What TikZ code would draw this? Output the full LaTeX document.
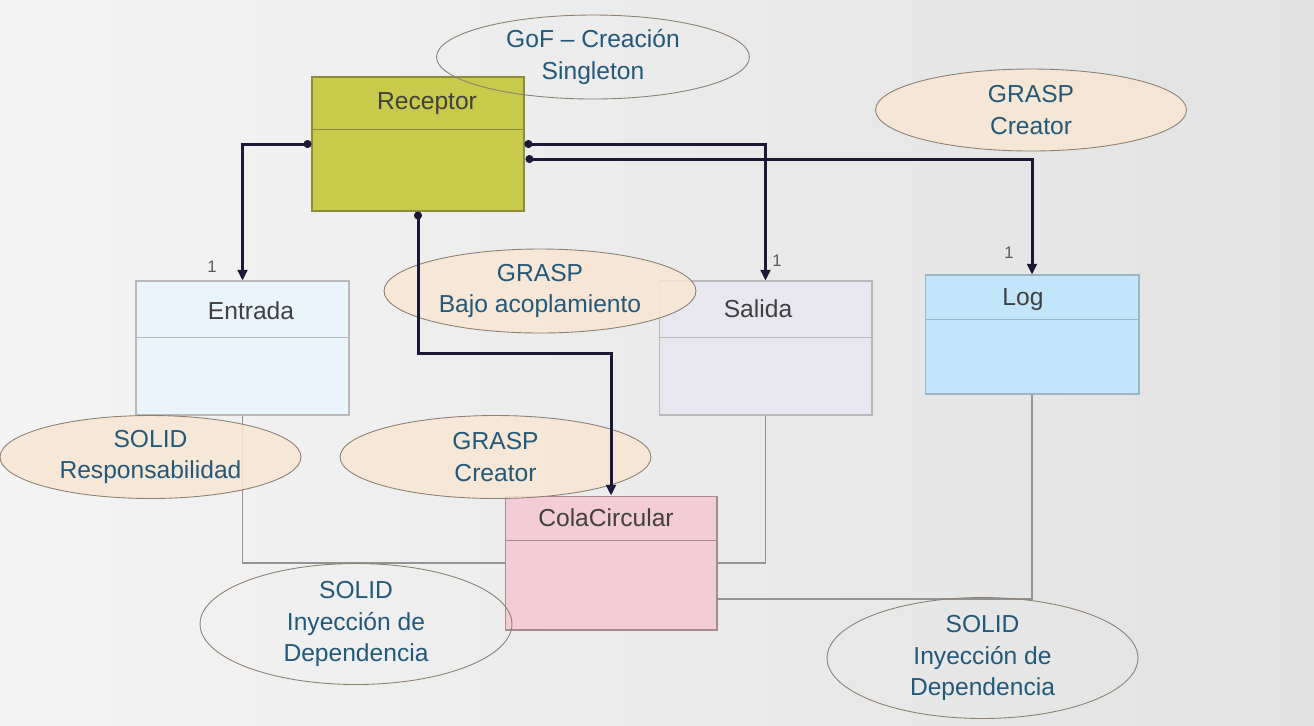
\documentclass[tikz,border=0pt]{standalone}
\usepackage{fontspec}
\setmainfont{Liberation Sans}
\usepackage{xcolor}
\usepackage{tikz}
\usetikzlibrary{shapes,arrows.meta,positioning,calc}

\definecolor{bgleft}{HTML}{F4F4F4}
\definecolor{bgright}{HTML}{E2E2E2}
\definecolor{recfill}{HTML}{C9C94C}
\definecolor{recline}{HTML}{8C8C3C}
\definecolor{entfill}{HTML}{EAF4FB}
\definecolor{salfill}{HTML}{E8E6EE}
\definecolor{logfill}{HTML}{C3E5F9}
\definecolor{logline}{HTML}{9AB6C8}
\definecolor{colafill}{HTML}{F2CDD5}
\definecolor{colaline}{HTML}{A88A90}
\definecolor{peach}{HTML}{F9E6D2}
\definecolor{notetext}{HTML}{22597B}
\definecolor{linknavy}{HTML}{1A1A38}

\tikzset{
    classbox/.style={rectangle, draw=#1, line width=0.6pt, inner sep=0pt},
    classname/.style={font=\fontsize{14}{16}\selectfont, text=black!75},
    divline/.style={draw=#1, line width=0.6pt},
    note/.style={ellipse, draw=gray!80!brown, line width=0.5pt, align=center,
        text=notetext, font=\fontsize{14}{18}\selectfont, inner sep=0pt},
    notefill/.style={note, fill=peach, fill opacity=0.85, text opacity=1},
    assoc/.style={draw=linknavy, line width=1.7pt, {Circle[length=4.5pt]}-{Triangle[length=6pt,width=5.5pt]}},
    dep/.style={draw=gray!85, line width=0.7pt},
    mult/.style={font=\fontsize{9.5}{10}\selectfont, text=black!65}
}

\begin{document}
\begin{tikzpicture}[x=0.02cm,y=-0.02cm]
    % background
    \useasboundingbox (0,0) rectangle (1314,725);
    \shade[left color=bgleft, right color=bgright] (0,0) rectangle (1314,725);

    % classes
    \node[classbox=recline, fill=recfill, minimum width=4.24cm, minimum height=2.68cm] (rec) at (418,144) {};
    \node[classbox=gray!55, fill=entfill, minimum width=4.26cm, minimum height=2.68cm] (ent) at (242.5,348) {};
    \node[classbox=gray!55, fill=salfill, minimum width=4.26cm, minimum height=2.68cm] (sal) at (765.5,348) {};
    \node[classbox=logline, fill=logfill, minimum width=4.28cm, minimum height=2.38cm] (log) at (1032,334.5) {};
    \node[classbox=colaline, fill=colafill, minimum width=4.24cm, minimum height=2.68cm] (cola) at (611,563) {};

    \draw[divline=recline] ($(rec.north west)+(0,53)$) -- ($(rec.north east)+(0,53)$);
    \draw[divline=gray!55] ($(ent.north west)+(0,57)$) -- ($(ent.north east)+(0,57)$);
    \draw[divline=gray!55] ($(sal.north west)+(0,57)$) -- ($(sal.north east)+(0,57)$);
    \draw[divline=logline] ($(log.north west)+(0,45)$) -- ($(log.north east)+(0,45)$);
    \draw[divline=colaline] ($(cola.north west)+(0,45)$) -- ($(cola.north east)+(0,45)$);

    \node[classname] (rec-t) at (427,104) {Receptor};
    \node[classname] (ent-t) at (251,311) {Entrada};
    \node[classname] (sal-t) at (758,309) {Salida};
    \node[classname] (log-t) at (1023,300) {Log};
    \node[classname] (cola-t) at (606,518) {ColaCircular};

    % dependencies to ColaCircular
    \coordinate (cola-log) at ($(cola.east)+(0,36)$);
    \draw[dep] (ent.south) |- (cola.west);
    \draw[dep] (sal.south) |- (cola.east);
    \draw[dep] (log.south) |- (cola-log);

    % notes
    \node[note, minimum width=6.26cm, minimum height=1.68cm] (gof) at (593,57) {GoF -- Creación\\Singleton};
    \node[notefill, minimum width=6.22cm, minimum height=1.64cm] (grasp-log) at (1031,110) {GRASP\\Creator};
    \node[notefill, minimum width=6.24cm, minimum height=1.68cm] (grasp-bajo) at (540,291) {GRASP\\Bajo acoplamiento};
    \node[notefill, minimum width=6.02cm, minimum height=1.66cm] (solid-resp) at (150.5,457) {SOLID\\Responsabilidad};
    \node[notefill, minimum width=6.22cm, minimum height=1.66cm] (grasp-cola) at (495.5,457) {GRASP\\Creator};
    \node[note, minimum width=6.24cm, minimum height=2.06cm] (solid-iny1) at (356,624) {SOLID\\Inyección de\\Dependencia};
    \node[note, minimum width=6.22cm, minimum height=2.04cm] (solid-iny2) at (982.5,658) {SOLID\\Inyección de\\Dependencia};

    % associations from Receptor
    \coordinate (rec-log) at ($(rec.east)+(1,15)$);
    \draw[assoc] (rec.west) -| (ent.north);
    \draw[assoc] (rec.east) -| (sal.north);
    \draw[assoc] (rec-log) -| (log.north);
    \draw[assoc] (rec.south) -- ++(0,142) -| (cola.north);

    % multiplicities
    \node[mult] (m-ent) at (212,267) {1};
    \node[mult] (m-sal) at (777,261) {1};
    \node[mult] (m-log) at (1009,253) {1};
\end{tikzpicture}
\end{document}
